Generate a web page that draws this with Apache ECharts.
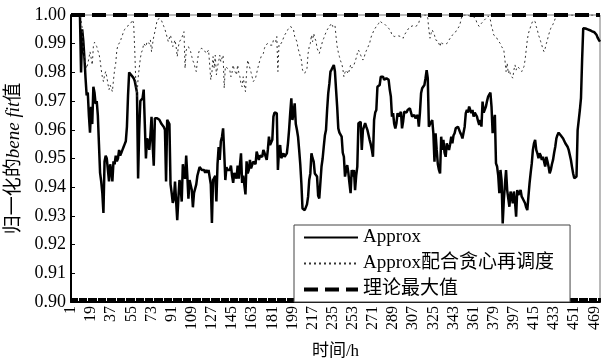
<!DOCTYPE html>
<html>
<head>
<meta charset="utf-8">
<script src="https://cdn.jsdelivr.net/npm/echarts@6/dist/echarts.min.js"></script>
<style>
  html, body { margin: 0; padding: 0; background: #fff; }
  #chart { width: 604px; height: 362px; }
</style>
</head>
<body>
<div id="chart"></div>
<script>
// x categories: hours 1..474
const hours = Array.from({ length: 474 }, (_, i) => String(i + 1));

const seriesNames = ['Approx', 'Approx配合贪心再调度', '理论最大值'];

// Approx (solid)
const approx = [
  1, 1, 1, 1, 1, 1, 1, 1, 1, 0.980,
  0.995, 0.991, 0.985, 0.978, 0.972, 0.973, 0.965, 0.959, 0.968, 0.962,
  0.975, 0.973, 0.969, 0.970, 0.965, 0.955, 0.945, 0.942, 0.938, 0.931,
  0.949, 0.951, 0.950, 0.946, 0.942, 0.948, 0.946, 0.942, 0.949, 0.948,
  0.951, 0.949, 0.950, 0.953, 0.951, 0.952, 0.953, 0.954, 0.955, 0.956,
  0.961, 0.972, 0.980, 0.980, 0.979, 0.979, 0.978, 0.977, 0.975, 0.973,
  0.943, 0.960, 0.970, 0.970, 0.971, 0.974, 0.962, 0.950, 0.957, 0.956,
  0.953, 0.958, 0.9645, 0.955, 0.9475, 0.964, 0.9645, 0.964, 0.9635, 0.9635,
  0.963, 0.962, 0.962, 0.961, 0.960, 0.942, 0.9635, 0.963, 0.962, 0.941,
  0.938, 0.9345, 0.936, 0.942, 0.935, 0.9285, 0.936, 0.9425, 0.940, 0.935,
  0.948, 0.944, 0.943, 0.951, 0.944, 0.936, 0.9425, 0.943, 0.939, 0.933,
  0.938, 0.9385, 0.941, 0.944, 0.9455, 0.947, 0.9475, 0.946, 0.946, 0.946,
  0.945, 0.946, 0.945, 0.946, 0.946, 0.941, 0.9275, 0.9425, 0.943, 0.944,
  0.935, 0.948, 0.954, 0.9495, 0.956, 0.9575, 0.9605, 0.952, 0.9425, 0.947,
  0.946, 0.9455, 0.946, 0.9475, 0.944, 0.9415, 0.945, 0.944, 0.943, 0.9475,
  0.943, 0.9425, 0.9518, 0.9415, 0.944, 0.9437, 0.9375, 0.949, 0.9448, 0.946,
  0.9495, 0.9466, 0.947, 0.9489, 0.9483, 0.948, 0.9524, 0.951, 0.9495, 0.951,
  0.9512, 0.9506, 0.953, 0.952, 0.9518, 0.9495, 0.953, 0.9576, 0.9547, 0.955,
  0.9565, 0.9646, 0.966, 0.9663, 0.9658, 0.946, 0.953, 0.9547, 0.9501, 0.951,
  0.9518, 0.9506, 0.951, 0.9518, 0.9553, 0.960, 0.9658, 0.971, 0.9634, 0.966,
  0.9692, 0.962, 0.960, 0.9576, 0.953, 0.948, 0.9413, 0.9326, 0.932, 0.932,
  0.9315, 0.934, 0.9367, 0.9425, 0.9448, 0.9518, 0.9501, 0.9489, 0.9448, 0.945,
  0.9437, 0.937, 0.9361, 0.9355, 0.9472, 0.950, 0.9541, 0.958, 0.9599, 0.9669,
  0.9727, 0.976, 0.9803, 0.981, 0.9808, 0.9826, 0.9803, 0.974, 0.968, 0.9605,
  0.959, 0.9588, 0.9576, 0.952, 0.9506, 0.9437, 0.946, 0.9477, 0.945, 0.9413,
  0.9379, 0.946, 0.9437, 0.946, 0.939, 0.944, 0.9472, 0.9623, 0.962, 0.9628,
  0.953, 0.9599, 0.9611, 0.9623, 0.9611, 0.960, 0.9599, 0.9565, 0.955, 0.953,
  0.9506, 0.9634, 0.966, 0.9669, 0.9750, 0.9756, 0.9756, 0.9785, 0.979, 0.9785,
  0.9774, 0.978, 0.978, 0.9774, 0.9774, 0.974, 0.9716, 0.9646, 0.9658, 0.962,
  0.9605, 0.9623, 0.9658, 0.9646, 0.965, 0.9663, 0.9605, 0.963, 0.9663, 0.9658,
  0.966, 0.9669, 0.967, 0.9675, 0.9669, 0.9646, 0.965, 0.9652, 0.964, 0.9634,
  0.9652, 0.9611, 0.966, 0.9727, 0.9745, 0.975, 0.9756, 0.978, 0.9808, 0.978,
  0.9611, 0.962, 0.9623, 0.9634, 0.9588, 0.9489, 0.9588, 0.953, 0.948, 0.946,
  0.9448, 0.9576, 0.953, 0.9565, 0.952, 0.9506, 0.9553, 0.9541, 0.953, 0.955,
  0.9576, 0.9553, 0.958, 0.9588, 0.9605, 0.9611, 0.9611, 0.9605, 0.959, 0.9582,
  0.957, 0.9565, 0.9611, 0.9658, 0.9669, 0.966, 0.9681, 0.9669, 0.9658, 0.9669,
  0.9646, 0.966, 0.9658, 0.9646, 0.963, 0.9617, 0.9634, 0.9611, 0.9698, 0.966,
  0.9658, 0.9681, 0.970, 0.9716, 0.972, 0.973, 0.9681, 0.9588, 0.963, 0.9652,
  0.9483, 0.9472, 0.944, 0.9379, 0.946, 0.9425, 0.9274, 0.9355, 0.941, 0.946,
  0.939, 0.936, 0.9332, 0.9385, 0.937, 0.9344, 0.9385, 0.935, 0.9297, 0.939,
  0.9373, 0.938, 0.939, 0.9367, 0.936, 0.9355, 0.9344, 0.933, 0.932, 0.9367,
  0.9413, 0.945, 0.9483, 0.953, 0.9553, 0.9565, 0.953, 0.9518, 0.9501, 0.9518,
  0.951, 0.9495, 0.9506, 0.950, 0.9472, 0.9506, 0.949, 0.9472, 0.9448, 0.946,
  0.948, 0.9495, 0.952, 0.9541, 0.957, 0.9582, 0.959, 0.9594, 0.958, 0.9576,
  0.957, 0.9565, 0.9553, 0.9547, 0.9541, 0.953, 0.9524, 0.9495, 0.947, 0.9448,
  0.9431, 0.9431, 0.9437, 0.9599, 0.9634, 0.9669, 0.971, 0.9843, 0.9954, 0.9954,
  0.9953, 0.9952, 0.995, 0.9948, 0.9947, 0.9945, 0.9943, 0.9942, 0.994, 0.9936,
  0.9930, 0.992, 0.9913, 0.9907
];

// Approx配合贪心再调度 (dotted)
const approxGreedy = [
  1, 1, 1, 1, 1, 1, 1, 1, 1, 0.9983,
  0.9954, 0.9878, 0.985, 0.9855, 0.9814, 0.983, 0.9849, 0.9872, 0.985, 0.9826,
  0.989, 0.9905, 0.9907, 0.989, 0.9875, 0.9866, 0.9843, 0.981, 0.9785, 0.9768,
  0.979, 0.9803, 0.9785, 0.976, 0.974, 0.9756, 0.975, 0.9733, 0.9774, 0.981,
  0.9832, 0.9878, 0.9895, 0.9901, 0.9907, 0.9919, 0.993, 0.9942, 0.995, 0.9954,
  0.996, 0.9963, 0.9965, 0.9971, 0.9975, 0.9983, 0.9971, 0.9878, 0.976, 0.9716,
  0.978, 0.9785, 0.9849, 0.987, 0.9878, 0.9901, 0.9901, 0.989, 0.9907, 0.9901,
  0.990, 0.9913, 0.9872, 0.9901, 0.9925, 0.9942, 0.996, 0.9983, 0.9988, 0.9988,
  0.9983, 0.998, 0.9977, 0.996, 0.995, 0.9936, 0.993, 0.9907, 0.992, 0.993,
  0.9907, 0.989, 0.990, 0.9913, 0.989, 0.9855, 0.989, 0.9907, 0.9901, 0.992,
  0.9925, 0.9942, 0.9814, 0.9878, 0.9884, 0.989, 0.988, 0.9872, 0.9855, 0.984,
  0.9832, 0.9815, 0.9803, 0.9837, 0.9866, 0.988, 0.9884, 0.9884, 0.9884, 0.9878,
  0.9872, 0.9866, 0.987, 0.9878, 0.9872, 0.9774, 0.980, 0.9855, 0.9814, 0.986,
  0.9791, 0.982, 0.9837, 0.986, 0.9837, 0.985, 0.986, 0.9745, 0.982, 0.9826,
  0.9814, 0.981, 0.9808, 0.9785, 0.980, 0.9826, 0.9808, 0.980, 0.9791, 0.9826,
  0.980, 0.9785, 0.976, 0.975, 0.9785, 0.9755, 0.9733, 0.980, 0.9843, 0.9837,
  0.9814, 0.980, 0.9797, 0.9768, 0.9762, 0.978, 0.9785, 0.9814, 0.983, 0.9843,
  0.9855, 0.986, 0.9866, 0.9884, 0.9895, 0.9901, 0.9901, 0.99, 0.9895, 0.989,
  0.9895, 0.9913, 0.991, 0.9907, 0.9925, 0.9803, 0.990, 0.9901, 0.9901, 0.991,
  0.9913, 0.993, 0.9936, 0.9942, 0.995, 0.9954, 0.996, 0.9965, 0.9955, 0.9948,
  0.9925, 0.992, 0.9907, 0.9884, 0.987, 0.9855, 0.9843, 0.9808, 0.9803, 0.9797,
  0.9803, 0.9814, 0.9866, 0.989, 0.9901, 0.993, 0.9907, 0.9936, 0.9919, 0.991,
  0.9884, 0.9878, 0.9866, 0.986, 0.9895, 0.991, 0.9919, 0.993, 0.9936, 0.9948,
  0.9954, 0.996, 0.9965, 0.9971, 0.996, 0.9965, 0.9965, 0.9925, 0.989, 0.987,
  0.9855, 0.984, 0.9832, 0.9814, 0.9785, 0.980, 0.9808, 0.9814, 0.9795, 0.980,
  0.9826, 0.9815, 0.982, 0.9826, 0.982, 0.985, 0.9866, 0.9878, 0.987, 0.986,
  0.986, 0.9843, 0.985, 0.9866, 0.9875, 0.9884, 0.989, 0.9901, 0.9919, 0.993,
  0.9936, 0.9948, 0.9954, 0.996, 0.9965, 0.997, 0.9979, 0.9977, 0.9973, 0.9971,
  0.997, 0.9965, 0.9962, 0.996, 0.9954, 0.9948, 0.9942, 0.993, 0.9925, 0.9925,
  0.9927, 0.9927, 0.9925, 0.9927, 0.9927, 0.9925, 0.992, 0.9919, 0.993, 0.9936,
  0.9942, 0.9948, 0.9954, 0.9956, 0.996, 0.9965, 0.9963, 0.9962, 0.996, 0.9962,
  0.9965, 0.9973, 0.9988, 0.9994, 0.9997, 1, 1, 1, 1, 0.9988,
  0.9948, 0.9919, 0.9936, 0.9948, 0.9954, 0.993, 0.9913, 0.9919, 0.991, 0.9907,
  0.989, 0.9907, 0.990, 0.9895, 0.990, 0.9895, 0.990, 0.9907, 0.991, 0.9919,
  0.9925, 0.993, 0.9933, 0.9936, 0.9942, 0.9948, 0.9954, 0.996, 0.9971, 0.9988,
  1, 1, 1, 1, 1, 1, 0.9997, 0.9997, 0.9994, 0.9988,
  0.9994, 1, 0.9985, 0.9971, 0.9965, 0.996, 0.9965, 0.9971, 0.9977, 0.998,
  0.9983, 0.9988, 0.9994, 0.9997, 0.9997, 0.9983, 0.996, 0.9948, 0.993, 0.9936,
  0.9925, 0.9919, 0.991, 0.9907, 0.99, 0.989, 0.9884, 0.9878, 0.9843, 0.9803,
  0.9832, 0.9797, 0.9808, 0.9791, 0.9797, 0.978, 0.9808, 0.9826, 0.9808, 0.982,
  0.9815, 0.9814, 0.9808, 0.9803, 0.9808, 0.982, 0.9843, 0.9878, 0.9913, 0.9936,
  0.9948, 0.996, 0.9971, 0.998, 0.9985, 0.9977, 0.996, 0.9948, 0.993, 0.992,
  0.9907, 0.9895, 0.988, 0.9872, 0.9884, 0.99, 0.9913, 0.993, 0.9942, 0.9954,
  0.996, 0.9968, 0.9977, 0.9988, 0.9994, 1, 1, 1, 1, 1,
  1, 1, 1, 1, 1, 1, 1, 1, 1, 1,
  1, 1, 1, 1, 1, 1, 1, 1, 1, 1,
  1, 1, 1, 1, 1, 1, 1, 1, 1, 1,
  1, 1, 1, 1
];

// 理论最大值 (theoretical maximum, normalised)
const theoryMax = hours.map(() => 1.0);

const yTicks = { min: 0.90, max: 1.00, step: 0.01 };

const serifFont = '"Liberation Serif", "Noto Sans CJK SC", serif';

const chart = echarts.init(document.getElementById('chart'), null, { renderer: 'canvas' });

chart.setOption({
  animation: false,
  backgroundColor: '#fff',
  textStyle: { fontFamily: serifFont, color: '#000' },
  grid: {
    left: 71, right: 4, top: 15, bottom: 60,
    outerBoundsMode: 'none',
    containLabel: false,
    show: true, borderColor: '#777', borderWidth: 1
  },
  legend: {
    orient: 'vertical',
    left: 294,
    top: 225,
    padding: [3, 16, 3, 8],
    itemGap: 7,
    itemWidth: 54,
    itemHeight: 18,
    backgroundColor: '#fff',
    borderColor: '#444',
    borderWidth: 1,
    borderRadius: 0,
    itemStyle: { opacity: 0 },
    textStyle: { fontFamily: serifFont, fontSize: 19, color: '#000' },
    data: [
      { name: seriesNames[0] },
      { name: seriesNames[1] },
      { name: seriesNames[2], lineStyle: { width: 4, type: [14, 7] } }
    ]
  },
  xAxis: {
    type: 'category',
    data: hours,
    boundaryGap: false,
    name: '时间/h',
    nameLocation: 'middle',
    nameGap: 41,
    nameTextStyle: { fontFamily: serifFont, fontSize: 17, color: '#000' },
    axisLine: { lineStyle: { color: '#000', width: 2 } },
    axisTick: { show: true, inside: true, length: 4, interval: 0, lineStyle: { color: '#000' } },
    axisLabel: {
      interval: 17,
      rotate: 90,
      fontSize: 16,
      fontFamily: serifFont,
      color: '#000',
      margin: 4
    },
    splitLine: { show: false }
  },
  yAxis: {
    type: 'value',
    min: yTicks.min,
    max: yTicks.max,
    interval: yTicks.step,
    name: '归一化的{i|bene fit}值',
    nameLocation: 'middle',
    nameGap: 43,
    nameTextStyle: {
      fontFamily: serifFont, fontSize: 19, color: '#000',
      rich: { i: { fontStyle: 'italic', fontFamily: serifFont, fontSize: 19, color: '#000' } }
    },
    axisLine: { show: true, lineStyle: { color: '#000', width: 2 } },
    axisTick: { show: true, inside: true, length: 4, lineStyle: { color: '#000' } },
    axisLabel: {
      fontSize: 18,
      fontFamily: serifFont,
      color: '#000',
      margin: 5,
      formatter: v => v.toFixed(2)
    },
    splitLine: { show: false }
  },
  series: [
    {
      name: seriesNames[0],
      type: 'line',
      data: approx,
      symbol: 'none',
      lineStyle: { color: '#000', width: 2.5 },
      itemStyle: { color: '#000' }
    },
    {
      name: seriesNames[1],
      type: 'line',
      data: approxGreedy,
      symbol: 'none',
      lineStyle: { color: '#333', width: 1, type: [2, 3] },
      itemStyle: { color: '#333' }
    },
    {
      name: seriesNames[2],
      type: 'line',
      data: theoryMax,
      symbol: 'none',
      lineStyle: { color: '#000', width: 4, type: [14, 7] },
      itemStyle: { color: '#000' }
    }
  ]
});
</script>
</body>
</html>
